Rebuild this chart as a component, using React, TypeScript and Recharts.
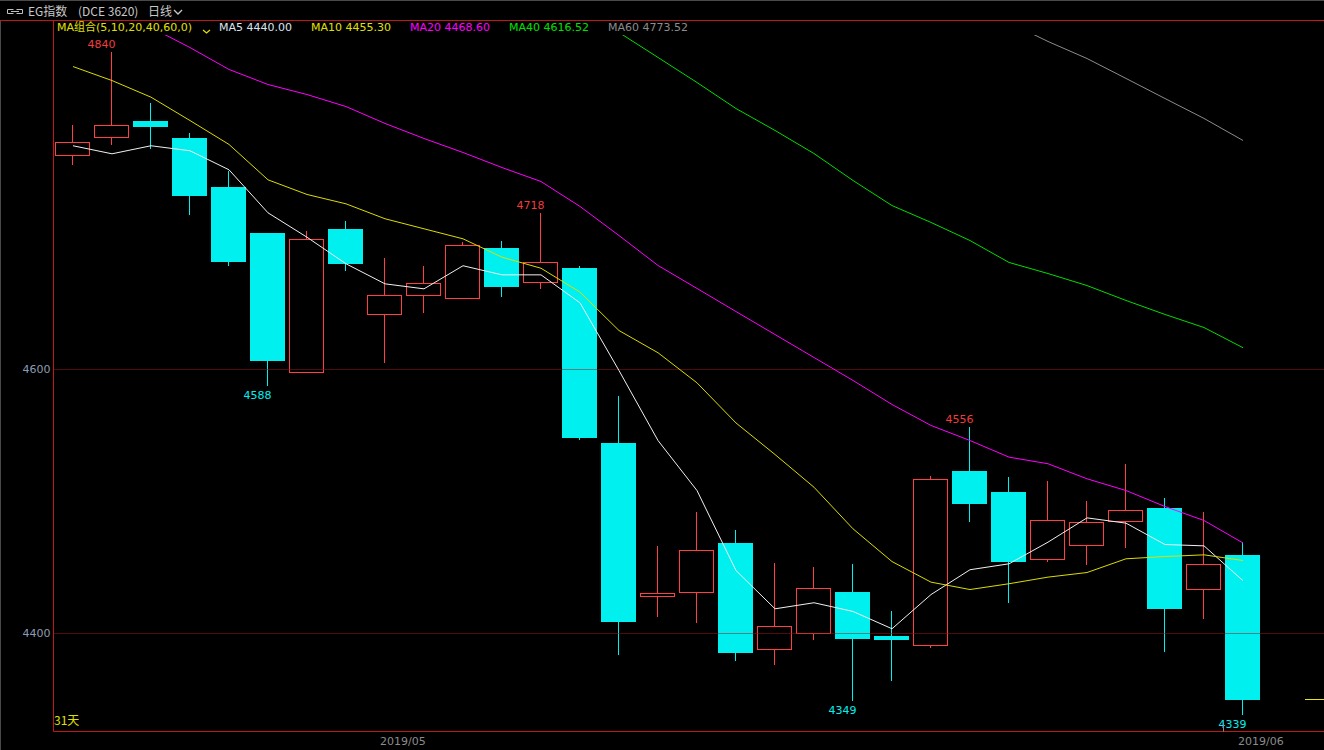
import React from 'react';
import { Bar, ComposedChart, Line, ReferenceLine, XAxis, YAxis } from 'recharts';

const dates = [
  '04-17', '04-18', '04-19', '04-22', '04-23', '04-24', '04-25', '04-26',
  '05-02', '05-03', '05-06', '05-07', '05-08', '05-09', '05-10', '05-13',
  '05-14', '05-15', '05-16', '05-17', '05-20', '05-21', '05-22', '05-23',
  '05-24', '05-27', '05-28', '05-29', '05-30', '05-31', '06-03',
];
const opens = [
  4762, 4775.8, 4787.9, 4775, 4737.9, 4703, 4597.7, 4706, 4641.7, 4655.8, 4653.8,
  4691.7, 4665.7, 4676.5, 4543.9, 4428.4, 4431, 4468.2, 4387.9, 4400, 4431, 4397.7,
  4390.9, 4522.7, 4506.8, 4455.8, 4466.6, 4484.7, 4494.7, 4433.3, 4459,
];
const closes = [
  4772, 4784.8, 4784, 4731.8, 4681.8, 4606.8, 4698.5, 4680.3, 4655.8, 4665, 4693.9,
  4662.9, 4680.8, 4548.5, 4409.1, 4430, 4462.9, 4385.6, 4405.3, 4434, 4396.5, 4395.7,
  4516.6, 4498.7, 4454.8, 4485.4, 4484, 4492.9, 4419, 4452.3, 4350,
];
const highs = [
  4785, 4840, 4801.5, 4778.8, 4750, 4703, 4704.5, 4712, 4684, 4678, 4696.2,
  4697, 4718, 4678, 4579.5, 4466, 4491.7, 4478, 4453, 4450, 4452.3, 4416.7,
  4518.7, 4556, 4518.2, 4515, 4500, 4528, 4502.3, 4491.7, 4469,
];
const lows = [
  4755, 4770.5, 4767.4, 4717.7, 4678.8, 4588, 4597.7, 4675, 4605.5, 4643, 4653.8,
  4655.5, 4661.6, 4547, 4384, 4413, 4408.5, 4379.8, 4376.7, 4395.7, 4349, 4364.6,
  4389.7, 4485, 4423.7, 4454.8, 4452.5, 4465.5, 4386.6, 4411.6, 4339,
];
const ma5 = [
  4769.5, 4763.4, 4769.5, 4765.7, 4751.3, 4718.7, 4700.2, 4680.1, 4664.9, 4661.1, 4678.6,
  4671.7, 4671.7, 4650.5, 4599.2, 4546.2, 4508.3, 4447.7, 4418.7, 4423.3, 4416.7, 4403.6,
  4429.5, 4448.3, 4452.8, 4469.2, 4487.6, 4483.6, 4467.4, 4466.4, 4440,
];
const ma10 = [
  4829.5, 4818.9, 4806.3, 4788.6, 4770.5, 4743.7, 4732.6, 4725.5, 4714.2, 4706.6, 4699,
  4685.1, 4676.7, 4658.6, 4629.5, 4612.7, 4589.9, 4559.5, 4535.6, 4510.8, 4479.3, 4454.5,
  4438.9, 4433.3, 4437.7, 4442.7, 4446.2, 4456.6, 4458.3, 4459.6, 4455.3,
];
const ma20 = [
  null, null, 4859.1, 4843.9, 4827.3, 4815.9, 4808.3, 4799.2, 4786.4, 4775, 4764.4,
  4753, 4742.4, 4723.5, 4701.5, 4678.8, 4661.4, 4643.9, 4626.5, 4609.1, 4591.7, 4573.5,
  4557.6, 4546.2, 4533.6, 4528.6, 4517.2, 4508.3, 4496.2, 4485.6, 4468.6,
];
const ma40 = [
  null, null, null, null, null, null, null, null, null, null, null,
  null, null, null, 4855.3, 4836.4, 4817.4, 4797.7, 4781.1, 4763.6, 4743.2, 4724.2,
  4711.4, 4697.7, 4681.1, 4672.7, 4663.6, 4652.3, 4641.7, 4631.8, 4616.5,
];
const ma60 = [
  null, null, null, null, null, null, null, null, null, null, null,
  null, null, null, null, null, null, null, null, null, null, null,
  null, null, 4862.9, 4848.5, 4835.6, 4820.5, 4805.3, 4790.2, 4773.5,
];
const yTicks = [4400, 4600];
const monthTicks = [
  { index: 8, label: '2019/05', mark: false },
  { index: 30, label: '2019/06', mark: true },
];
const highMarks = [1, 12, 23];
const lowMarks = [5, 20, 30];
const legendItems = [
  { text: 'MA5 4440.00', color: '#d8e4f0', left: 219 },
  { text: 'MA10 4455.30', color: '#e0e000', left: 311 },
  { text: 'MA20 4468.60', color: '#ff00ff', left: 410 },
  { text: 'MA40 4616.52', color: '#00e000', left: 509 },
  { text: 'MA60 4773.52', color: '#8c8c8c', left: 608 },
];

const UP = '#ff4040';
const DOWN = '#00f0f0';
const BORDER = '#c01818';

const data = dates.map((date, i) => ({
  i,
  date,
  open: opens[i],
  close: closes[i],
  high: highs[i],
  low: lows[i],
  ma5: ma5[i],
  ma10: ma10[i],
  ma20: ma20[i],
  ma40: ma40[i],
  ma60: ma60[i],
}));

function Candle(props: any) {
  const { x, y, width, height, payload } = props;
  const { open, close, high, low, i } = payload;
  const unit = height / (high - low);
  const row = (v: number) => Math.floor(y + (high - v) * unit);
  const xs = Math.floor(x);
  const w = Math.round(width);
  const cx = xs + Math.floor(w / 2) + 0.5;
  const hR = row(high);
  const lR = row(low);
  const tR = row(Math.max(open, close));
  const bR = row(Math.min(open, close));
  const up = close >= open;
  const labelX = cx - 10;
  return (
    <g>
      {up ? (
        <g>
          <line x1={cx} x2={cx} y1={hR} y2={tR} stroke={UP} />
          <line x1={cx} x2={cx} y1={bR + 1} y2={lR + 1} stroke={UP} />
          <rect x={xs + 0.5} y={tR + 0.5} width={w - 1} height={Math.max(bR - tR, 1)} fill="none" stroke={UP} />
        </g>
      ) : (
        <g>
          <line x1={cx} x2={cx} y1={hR} y2={lR + 1} stroke={DOWN} />
          <rect x={xs} y={tR} width={w} height={Math.max(bR - tR + 1, 2)} fill={DOWN} />
        </g>
      )}
      {highMarks.includes(i) && (
        <text x={labelX} y={hR - 4} textAnchor="middle" fill="#f03c3c" fontSize={11} fontFamily="DejaVu Sans">
          {Math.round(high)}
        </text>
      )}
      {lowMarks.includes(i) && (
        <text x={labelX} y={lR + 14} textAnchor="middle" fill={DOWN} fontSize={11} fontFamily="DejaVu Sans">
          {Math.round(low)}
        </text>
      )}
    </g>
  );
}

function MonthTick(props: any) {
  const { x, y, payload } = props;
  const t = monthTicks.find((m) => dates[m.index] === payload.value);
  if (!t) return null;
  const xs = Math.floor(x);
  return (
    <g>
      {t.mark && <line x1={xs - 19.5} x2={xs - 19.5} y1={y - 9} y2={y} stroke="#8c8c8c" />}
      <text x={xs - 5} y={y + 13} textAnchor="start" fill="#8c8c8c" fontSize={11} fontFamily="DejaVu Sans">
        {t.label}
      </text>
    </g>
  );
}

const gridLine = (p: any) => (
  <line
    x1={p.x1}
    x2={p.x2}
    y1={Math.floor(p.y1) + 0.5}
    y2={Math.floor(p.y1) + 0.5}
    stroke="#a01818"
    strokeDasharray="1 1"
  />
);

const lastMarker = (p: any) => (
  <line x1={p.x2 - 19} x2={p.x2} y1={Math.floor(p.y1) + 0.5} y2={Math.floor(p.y1) + 0.5} stroke="#e8e800" />
);

export default function App() {
  return (
    <div
      style={{
        position: 'absolute',
        left: 0,
        top: 0,
        width: 1324,
        height: 750,
        background: '#000',
        overflow: 'hidden',
        fontFamily: 'DejaVu Sans',
      }}
    >
      <ComposedChart
        width={1324}
        height={750}
        data={data}
        margin={{ top: 20, right: 0, bottom: 0, left: 0 }}
        barSize={35}
      >
        <XAxis
          dataKey="date"
          height={18.5}
          padding={{ left: 0, right: 61.5 }}
          axisLine={{ stroke: BORDER }}
          tickLine={false}
          tickSize={0}
          tickMargin={0}
          interval={0}
          ticks={monthTicks.map((m) => dates[m.index])}
          tick={<MonthTick />}
        />
        <YAxis
          type="number"
          width={53.5}
          domain={[4325.76, 4864.77]}
          allowDataOverflow
          ticks={yTicks}
          axisLine={{ stroke: BORDER }}
          tickLine={false}
          tickSize={0}
          tickMargin={3}
          tick={{ fill: '#8c9cb4', fontSize: 11, fontFamily: 'DejaVu Sans' }}
        />
        {yTicks.map((v) => (
          <ReferenceLine key={v} y={v} shape={gridLine} />
        ))}
        <Bar dataKey={(d: any) => [d.low, d.high]} shape={<Candle />} isAnimationActive={false} />
        <Line dataKey="ma5" stroke="#f0f0f0" strokeWidth={1} dot={false} activeDot={false} isAnimationActive={false} />
        <Line dataKey="ma10" stroke="#dcdc00" strokeWidth={1} dot={false} activeDot={false} isAnimationActive={false} />
        <Line dataKey="ma20" stroke="#ff00ff" strokeWidth={1} dot={false} activeDot={false} isAnimationActive={false} />
        <Line dataKey="ma40" stroke="#00dd00" strokeWidth={1} dot={false} activeDot={false} isAnimationActive={false} />
        <Line dataKey="ma60" stroke="#8c8c8c" strokeWidth={1} dot={false} activeDot={false} isAnimationActive={false} />
        <ReferenceLine y={closes[closes.length - 1]} shape={lastMarker} />
      </ComposedChart>

      {/* header */}
      <div style={{ position: 'absolute', left: 0, top: 0, width: 1324, height: 1, background: '#4a4a4a' }} />
      <div
        style={{
          position: 'absolute',
          left: 0,
          top: 1,
          width: 1324,
          height: 19,
          background: '#000',
          color: '#c8c8c8',
          fontFamily: '"Noto Sans CJK SC"',
          fontSize: 12,
          lineHeight: '19px',
        }}
      >
        <svg width={30} height={19} style={{ position: 'absolute', left: 0, top: 0 }}>
          <path d="M13.5 8.5 H7.5 V12.5 H13.5 M11 10.5 H19 M16.5 8.5 H22.5 V12.5 H16.5" fill="none" stroke="#c0c0c0" />
        </svg>
        <span style={{ position: 'absolute', left: 28, top: 0 }}>EG指数</span>
        <span style={{ position: 'absolute', left: 78, top: 0 }}>(DCE 3620)</span>
        <span style={{ position: 'absolute', left: 148, top: 0 }}>日线</span>
        <svg width={12} height={19} style={{ position: 'absolute', left: 172, top: 0 }}>
          <polyline points="2,9 6,13 10,9" fill="none" stroke="#c8c8c8" strokeWidth={1.3} />
        </svg>
      </div>
      <div style={{ position: 'absolute', left: 0, top: 20, width: 1324, height: 1, background: BORDER }} />
      <svg width={10} height={11} style={{ position: 'absolute', left: 1314, top: 20 }}>
        <polygon points="1,0 10,0 10,10" fill="#d01818" />
      </svg>

      {/* MA legend band */}
      <div
        style={{
          position: 'absolute',
          left: 54,
          top: 21,
          width: 1270,
          height: 14,
          background: '#000',
          fontFamily: '"DejaVu Sans", "Noto Sans CJK SC"',
          fontSize: 11,
          lineHeight: '14px',
          whiteSpace: 'nowrap',
        }}
      >
        <span style={{ position: 'absolute', left: 3, top: 0, color: '#e0e000' }}>MA组合(5,10,20,40,60,0)</span>
        <svg width={10} height={14} style={{ position: 'absolute', left: 148, top: 0 }}>
          <polyline points="1,9 4.5,12 8,9" fill="none" stroke="#e0e000" strokeWidth={1.3} />
        </svg>
        {legendItems.map((it) => (
          <span key={it.text} style={{ position: 'absolute', left: it.left - 54, top: 0, color: it.color }}>
            {it.text}
          </span>
        ))}
      </div>

      <div style={{ position: 'absolute', left: 0, top: 21, width: 1, height: 729, background: '#4a4a4a' }} />
      <span
        style={{
          position: 'absolute',
          left: 54,
          top: 712,
          color: '#e0e000',
          fontFamily: '"Noto Sans CJK SC"',
          fontSize: 12,
          lineHeight: '16px',
        }}
      >
        31天
      </span>
    </div>
  );
}
